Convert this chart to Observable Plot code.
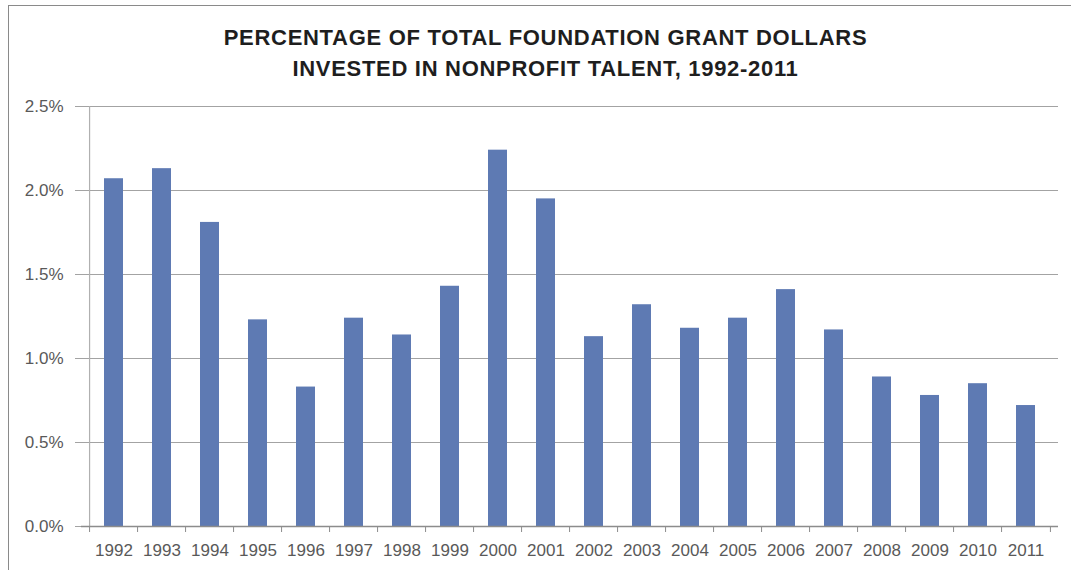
<!DOCTYPE html>
<html>
<head>
<meta charset="utf-8">
<script src="https://cdn.jsdelivr.net/npm/d3@7"></script>
<script src="https://cdn.jsdelivr.net/npm/@observablehq/plot@0.6"></script>
<style>
  html, body { margin: 0; padding: 0; background: #fff; overflow: hidden; }
  #wrap { position: relative; width: 1071px; height: 570px; }
  #frame { position: absolute; left: 8px; top: 5px; width: 1100px; height: 620px; border: 1.5px solid #8a8a8a; box-sizing: border-box; }
  #title { position: absolute; left: 0; top: 22px; width: 1091px; text-align: center;
           font-family: "Liberation Sans", Arial, sans-serif; font-weight: bold; font-size: 22px;
           letter-spacing: 0.7px; line-height: 31px; color: #1e1e1e; }
  #chart { position: absolute; left: 0; top: 0; }
</style>
</head>
<body>
<div id="wrap">
  <div id="frame"></div>
  <div id="chart"></div>
  <div id="title">PERCENTAGE OF TOTAL FOUNDATION GRANT DOLLARS<br>INVESTED IN NONPROFIT TALENT, 1992-2011</div>
</div>
<script>
const years = ["1992","1993","1994","1995","1996","1997","1998","1999","2000","2001",
               "2002","2003","2004","2005","2006","2007","2008","2009","2010","2011"];
const percents = [2.07, 2.13, 1.81, 1.23, 0.83, 1.24, 1.14, 1.43, 2.24, 1.95,
                  1.13, 1.32, 1.18, 1.24, 1.41, 1.17, 0.89, 0.78, 0.85, 0.72];
const yTicks = [0, 0.5, 1.0, 1.5, 2.0, 2.5];

const data = years.map((y, i) => ({year: y, value: percents[i]}));

const W = 1071, H = 570;
const mL = 81, mR = 13, mT = 106, mB = 44;
const step = (W - mL - mR) / years.length;

const chart = Plot.plot({
  width: W,
  height: H,
  marginLeft: mL,
  marginRight: mR,
  marginTop: mT,
  marginBottom: mB,
  style: {fontFamily: "'Liberation Sans', Arial, sans-serif", fontSize: "17px", color: "#595959", background: "transparent"},
  x: {domain: years, paddingInner: 0.6, paddingOuter: 0.3, label: null},
  y: {domain: [0, 2.5], label: null},
  marks: [
    Plot.gridY(yTicks.filter(t => t > 0), {stroke: "#a3a3a3", strokeOpacity: 1, strokeWidth: 1.2}),
    Plot.ruleX([years[0]], {y1: 0, y2: 2.5, dx: -step / 2, stroke: "#b0b0b0", strokeWidth: 1.2}),
    Plot.barY(data, {x: "year", y: "value", fill: "#5e7ab3"}),
    Plot.ruleY([0], {stroke: "#8c8c8c", strokeWidth: 1.5}),
    Plot.ruleX(years, {y1: 0, y2: 0, insetBottom: -6, dx: -step / 2, stroke: "#8c8c8c"}),
    Plot.ruleX([years[years.length - 1]], {y1: 0, y2: 0, insetBottom: -6, dx: step / 2, stroke: "#8c8c8c"}),
    Plot.axisY({ticks: yTicks, tickSize: 6, tickPadding: 12, stroke: "#a3a3a3", fill: "#595959",
                tickFormat: d => d.toFixed(1) + "%"}),
    Plot.axisX({tickSize: 0, tickPadding: 17, fill: "#595959"})
  ]
});
document.getElementById("chart").appendChild(chart);
</script>
</body>
</html>
